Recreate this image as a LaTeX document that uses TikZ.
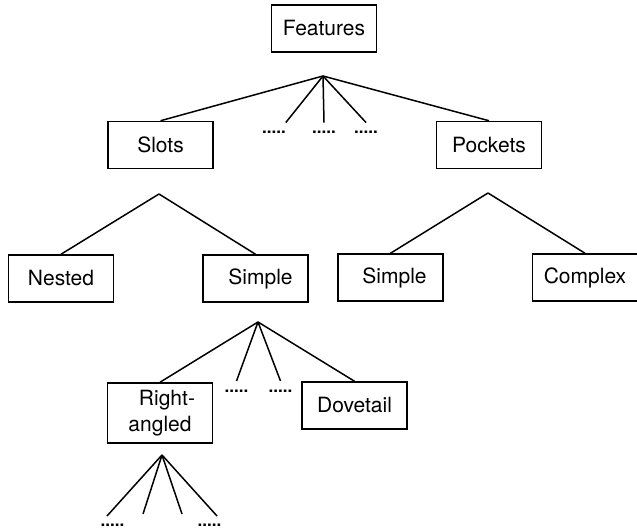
\documentclass[tikz,border=0pt]{standalone}
\usepackage{fontspec}
\setmainfont{TeX Gyre Heros}
\usetikzlibrary{positioning}

\begin{document}
\begin{tikzpicture}[x=1pt, y=-1pt, line width=1.5pt,
		every node/.style={font=\fontsize{21}{26}\selectfont},
		feat/.style={draw, minimum width=105pt, minimum height=47pt, inner sep=0pt, align=center},
		more/.style={font=\fontsize{17}{17}\selectfont\bfseries, inner sep=0pt, outer xsep=0pt, outer ysep=9pt, anchor=base}]
	\useasboundingbox (0,0) rectangle (637,529);

	% --- Boxes ---
	\node[feat] (features) at (324,28.5) {Features};
	\node[feat] (slots) at (160.5,145) {Slots};
	\node[feat] (pockets) at (489,145) {Pockets};
	\node[feat] (nested) at (61,278.5) {Nested};
	\node[feat] (simpleS) at (255.5,278.5) {\hspace{10pt}Simple};
	\node[feat] (simpleP) at (390.5,277.5) {\hspace{8pt}Simple};
	\node[feat] (complex) at (585,277.5) {Complex};
	\node[feat, minimum height=60pt] (rightang) at (160,413) {\hspace{14pt}Right-\\angled};
	\node[feat] (dovetail) at (354.5,405.5) {Dovetail};

	% --- Dots (further features) ---
	\node[more] (dF1) at (274,134) {.....};
	\node[more] (dF2) at (324,134) {.....};
	\node[more] (dF3) at (366,134) {.....};
	\node[more] (dS1) at (236.5,392.5) {.....};
	\node[more] (dS2) at (280.5,392.5) {.....};
	\node[more] (dR1) at (112.5,526) {.....};
	\node[more] (dR2) at (209.5,526) {.....};

	% --- Fork points ---
	\coordinate (forkF) at (323,76);
	\coordinate (forkSl) at (159,194);
	\coordinate (forkPo) at (488,193);
	\coordinate (forkSi) at (258,322);
	\coordinate (forkRa) at (162,455);

	% free ends under Right-angled
	\foreach \i/\x/\y in {1/107/516, 2/143/514, 3/182/514, 4/217/516}
		\coordinate (endR\i) at (\x,\y);

	% --- Branches ---
	\foreach \n/\a in {slots/north, dF1/north east, dF2/north, dF3/north, pockets/north}
		\draw (forkF) -- (\n.\a);
	\foreach \n in {nested, simpleS}
		\draw (forkSl) -- (\n.north);
	\foreach \n in {simpleP, complex}
		\draw (forkPo) -- (\n.north);
	\foreach \n in {rightang, dS1, dS2, dovetail}
		\draw (forkSi) -- (\n.north);
	\foreach \i in {1,...,4}
		\draw (forkRa) -- (endR\i);

\end{tikzpicture}
\end{document}
